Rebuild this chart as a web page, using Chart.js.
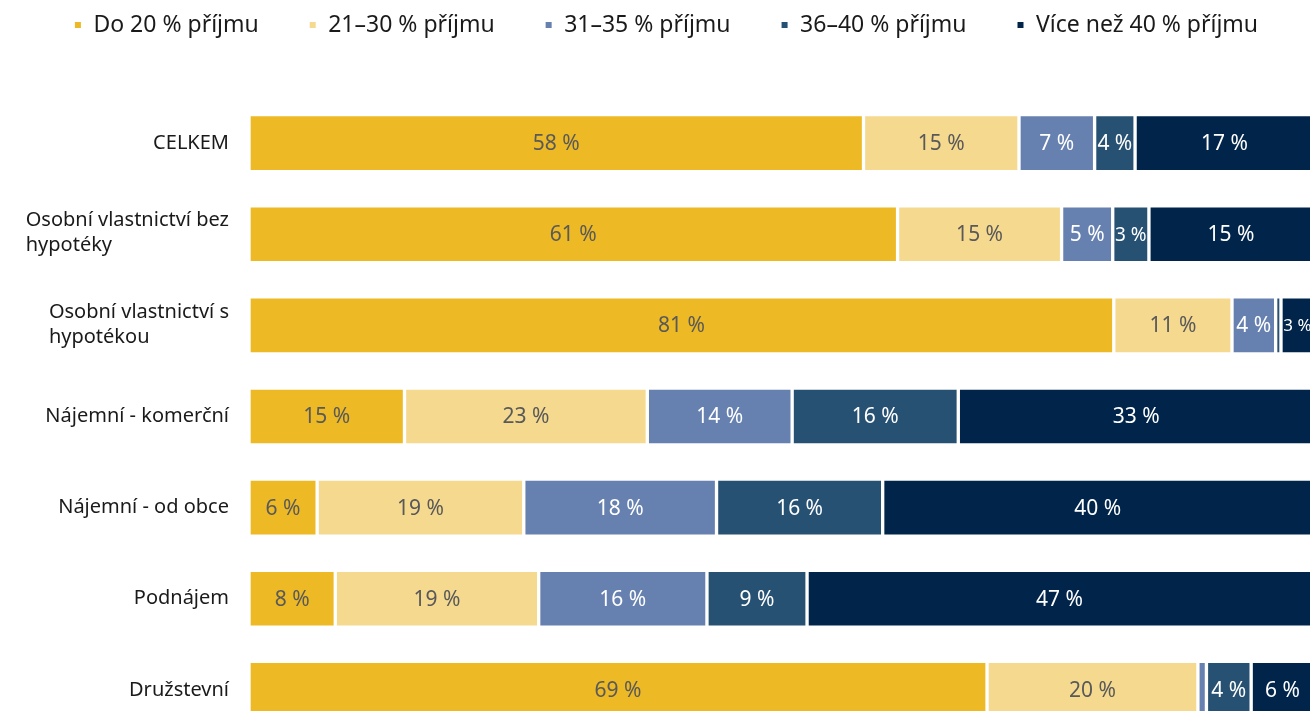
<!DOCTYPE html>
<html><head><meta charset="utf-8">
<script src="https://cdn.jsdelivr.net/npm/chart.js@4/dist/chart.umd.min.js"></script>
<style>html,body{margin:0;padding:0;overflow:hidden;background:#fff;width:1310px;height:711px}
#wrap{position:absolute;left:0;top:0;width:1330px;height:740px}</style>
</head><body><div id="wrap"><canvas id="c" width="1330" height="740"></canvas></div>
<script>
const categories = [["CELKEM"],["Osobní vlastnictví bez","hypotéky"],["Osobní vlastnictví s","hypotékou"],["Nájemní - komerční"],["Nájemní - od obce"],["Podnájem"],["Družstevní"]];
const seriesNames = ["Do 20 % příjmu","21–30 % příjmu","31–35 % příjmu","36–40 % příjmu","Více než 40 % příjmu"];
const do20   = [57.7, 60.9, 81.2, 14.6,  6.4,  8.1, 69.3];
const p21_30 = [14.6, 15.4, 11.1, 22.8, 19.4, 19.1, 19.8];
const p31_35 = [ 7.1,  4.8,  4.1, 13.6, 18.1, 15.8,  0.8];
const p36_40 = [ 3.8,  3.4,  0.5, 15.6, 15.6,  9.4,  4.2];
const over40 = [16.8, 15.4,  3.1, 33.4, 40.4, 47.4,  5.9];

const FONT = '"Noto Sans", "Open Sans", sans-serif';
const colors = ['#EDB925','#F5D98F','#6680B0','#275173','#01254A'];
const labelColors = ['#595959','#595959','#ffffff','#ffffff','#ffffff'];
const series = [do20, p21_30, p31_35, p36_40, over40];

const legendSpacer = {
  id:'legendSpacer',
  beforeLayout(chart){
    const lg = chart.legend;
    if (lg && !lg._patched){
      const f = lg.fit;
      lg.fit = function(){ f.call(this); this.height += 51; };
      lg._patched = true;
    }
  },
  afterLayout(chart){
    const lg = chart.legend;
    if (lg){ lg.left += 9; lg.right += 9; }
  }
};

const catLabels = {
  id:'catLabels',
  afterDraw(chart){
    const ctx = chart.ctx, ys = chart.scales.y;
    ctx.save();
    ctx.font = '20px ' + FONT;
    ctx.fillStyle = '#1a1a1a';
    ctx.textAlign = 'left';
    ctx.textBaseline = 'middle';
    categories.forEach((lines, i) => {
      const y = ys.getPixelForValue(i);
      const maxW = Math.max(...lines.map(l => ctx.measureText(l).width));
      const x = 229 - maxW;
      const n = lines.length;
      lines.forEach((l, j) => {
        ctx.fillText(l, x, y + (j - (n - 1) / 2) * 25 - (n > 1 ? 1 : 0));
      });
    });
    ctx.restore();
  }
};

const dataLabels = {
  id:'dataLabels',
  afterDatasetsDraw(chart){
    const ctx = chart.ctx;
    ctx.save();
    ctx.textAlign = 'center';
    ctx.textBaseline = 'middle';
    chart.data.datasets.forEach((ds, di) => {
      const meta = chart.getDatasetMeta(di);
      meta.data.forEach((bar, i) => {
        const v = ds.data[i];
        if (v < 1) return;
        const txt = Math.round(v) + ' %';
        const left = Math.min(bar.x, bar.base), right = Math.max(bar.x, bar.base);
        const w = right - left - 4;
        let size = 21;
        ctx.font = size + 'px ' + FONT;
        const tw = ctx.measureText(txt).width;
        if (tw > w) { size = Math.max(16, Math.floor(size * w / tw)); ctx.font = size + 'px ' + FONT; }
        ctx.fillStyle = labelColors[di];
        ctx.fillText(txt, (left + right) / 2, bar.y + 1);
      });
    });
    ctx.restore();
  }
};

new Chart(document.getElementById('c').getContext('2d'), {
  type:'bar',
  data:{
    labels: categories.map(c => c.join(' ')),
    datasets: series.map((d, k) => ({
      label: seriesNames[k],
      data: d,
      backgroundColor: colors[k],
      borderColor: '#ffffff',
      borderWidth: 2,
      borderSkipped: false,
      barThickness: 57
    }))
  },
  options:{
    indexAxis:'y',
    responsive:false,
    animation:false,
    layout:{padding:{top:-36.5,right:16,bottom:4.5,left:0}},
    plugins:{
      legend:{position:'top',align:'center',
        labels:{boxWidth:8,boxHeight:8,padding:50,color:'#1a1a1a',font:{family:FONT,size:23}}},
      tooltip:{enabled:false}
    },
    scales:{
      x:{stacked:true,min:0,max:100,display:false},
      y:{stacked:true,ticks:{display:false},grid:{display:false},border:{display:false},
         afterFit(s){ s.width = 249; }}
    }
  },
  plugins:[legendSpacer, catLabels, dataLabels]
});
</script></body></html>
